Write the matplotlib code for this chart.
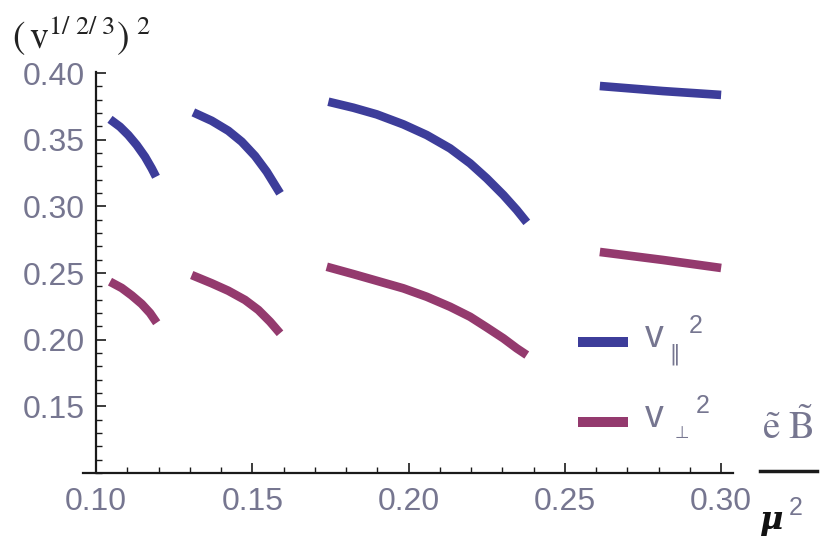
import matplotlib
matplotlib.use("Agg")
import matplotlib.pyplot as plt
from matplotlib.ticker import FixedLocator
from matplotlib.lines import Line2D

# ---- data (x = eB/mu^2, y = v^2) ----
par_x1 = [0.10448, 0.10768, 0.11034, 0.11302, 0.11568, 0.11782, 0.11920]
par_y1 = [0.3653, 0.3597, 0.3535, 0.3460, 0.3372, 0.3285, 0.3222]
par_x2 = [0.13114, 0.13702, 0.14234, 0.14662, 0.15088, 0.15462, 0.15888]
par_y2 = [0.3705, 0.3642, 0.3567, 0.3485, 0.3378, 0.3260, 0.3098]
par_x3 = [0.17434, 0.18234, 0.18982, 0.19834, 0.20582, 0.21328, 0.21968,
          0.22502, 0.23034, 0.23462, 0.23782]
par_y3 = [0.3785, 0.3740, 0.3690, 0.3615, 0.3535, 0.3435, 0.3323,
          0.3210, 0.3085, 0.2973, 0.2880]
par_x4 = [0.2612, 0.2814, 0.3000]
par_y4 = [0.3903, 0.3865, 0.3836]

perp_x1 = [0.10448, 0.10822, 0.11142, 0.11462, 0.11728, 0.11942]
perp_y1 = [0.2435, 0.2388, 0.2332, 0.2268, 0.2200, 0.2127]
perp_x2 = [0.13062, 0.13702, 0.14234, 0.14768, 0.15194, 0.15568, 0.15888]
perp_y2 = [0.2485, 0.2423, 0.2367, 0.2298, 0.2223, 0.2135, 0.2048]
perp_x3 = [0.17382, 0.18234, 0.18982, 0.19834, 0.20582, 0.21328, 0.21968,
           0.22502, 0.23034, 0.23462, 0.23782]
perp_y3 = [0.2547, 0.2492, 0.2442, 0.2385, 0.2322, 0.2247, 0.2172,
           0.2092, 0.2010, 0.1935, 0.1885]
perp_x4 = [0.2612, 0.2814, 0.3000]
perp_y4 = [0.2658, 0.2598, 0.2538]

x_ticks = [0.10, 0.15, 0.20, 0.25, 0.30]
x_tick_labels = ["0.10", "0.15", "0.20", "0.25", "0.30"]
y_ticks = [0.15, 0.20, 0.25, 0.30, 0.35, 0.40]
y_tick_labels = ["0.15", "0.20", "0.25", "0.30", "0.35", "0.40"]

BLUE = "#3d3d9a"
MAG = "#943a6e"
TXT = "#767690"

W, H = 821, 544
fig = plt.figure(figsize=(W / 100, H / 100), dpi=100)
ax = fig.add_axes([83 / W, (H - 473) / H, (733 - 83) / W, (473 - 72) / H])

lw = 6.2
for xs, ys in [(par_x1, par_y1), (par_x2, par_y2), (par_x3, par_y3), (par_x4, par_y4)]:
    ax.plot(xs, ys, color=BLUE, lw=lw, solid_capstyle="butt", solid_joinstyle="round")
for xs, ys in [(perp_x1, perp_y1), (perp_x2, perp_y2), (perp_x3, perp_y3), (perp_x4, perp_y4)]:
    ax.plot(xs, ys, color=MAG, lw=lw, solid_capstyle="butt", solid_joinstyle="round")

ax.set_xlim(0.09584, 0.3038)
ax.set_ylim(0.10, 0.4008)

for s in ["top", "right"]:
    ax.spines[s].set_visible(False)
ax.spines["left"].set_position(("data", 0.10))
for s in ["left", "bottom"]:
    ax.spines[s].set_linewidth(1.6)
    ax.spines[s].set_color("#1a1a1a")

ax.xaxis.set_major_locator(FixedLocator(x_ticks))
ax.set_xticklabels(x_tick_labels)
ax.xaxis.set_minor_locator(FixedLocator([0.10 + 0.01 * i for i in range(21)]))
ax.yaxis.set_major_locator(FixedLocator(y_ticks))
ax.set_yticklabels(y_tick_labels)
ax.yaxis.set_minor_locator(FixedLocator([0.10 + 0.01 * i for i in range(31)]))

ax.tick_params(axis="both", which="major", direction="in", length=7, width=1.2,
               color="#1a1a1a", labelsize=23, labelcolor=TXT)
ax.tick_params(axis="both", which="minor", direction="in", length=4.5, width=1.0,
               color="#1a1a1a")
ax.tick_params(axis="x", which="major", pad=10)
ax.tick_params(axis="y", which="major", pad=8)
for lab in ax.get_xticklabels() + ax.get_yticklabels():
    lab.set_fontfamily("Liberation Sans")

# y-axis label (top-left)
fig.text(12 / W, 1 - 36 / H, r"$(\,\mathrm{v}^{1/\ 2/\ 3})^{\ 2}$", fontsize=27,
         color="#222222", va="center", ha="left", math_fontfamily="stix")

# legend
fig.add_artist(Line2D([578 / W, 628 / W], [1 - 342 / H] * 2, color=BLUE, lw=7.2,
                      solid_capstyle="butt"))
fig.add_artist(Line2D([578 / W, 628 / W], [1 - 422 / H] * 2, color=MAG, lw=7.2,
                      solid_capstyle="butt"))
fig.text(645 / W, 1 - 337 / H, "v", fontsize=27, color=TXT, family="Liberation Sans",
         va="center", ha="left")
fig.text(675 / W, 1 - 354 / H, "‖", fontsize=15, color=TXT, family="DejaVu Sans",
         va="center", ha="center")
fig.text(696 / W, 1 - 326 / H, "2", fontsize=18, color=TXT, family="Liberation Sans",
         va="center", ha="center")
fig.text(645 / W, 1 - 417 / H, "v", fontsize=27, color=TXT, family="Liberation Sans",
         va="center", ha="left")
fig.text(682 / W, 1 - 433 / H, "⊥", fontsize=12, color=TXT, family="DejaVu Sans",
         va="center", ha="center")
fig.text(703 / W, 1 - 406 / H, "2", fontsize=18, color=TXT, family="Liberation Sans",
         va="center", ha="center")

# x-axis label as a fraction
fig.text(788 / W, 1 - 428 / H, r"$\tilde{\mathrm{e}}\ \tilde{\mathrm{B}}$", fontsize=28,
         color=TXT, va="center", ha="center", math_fontfamily="stix")
fig.add_artist(Line2D([760 / W, 817 / W], [1 - 471 / H] * 2, color="#1a1a1a", lw=2.5))
fig.text(772 / W, 1 - 520 / H, "μ", fontsize=23, fontweight="bold", fontstyle="italic",
         family="DejaVu Serif", color="#111111", va="center", ha="center")
fig.text(796 / W, 1 - 508 / H, "2", fontsize=18, family="Liberation Sans",
         color=TXT, va="center", ha="center")

fig.savefig("out.png", dpi=100, facecolor="white")
